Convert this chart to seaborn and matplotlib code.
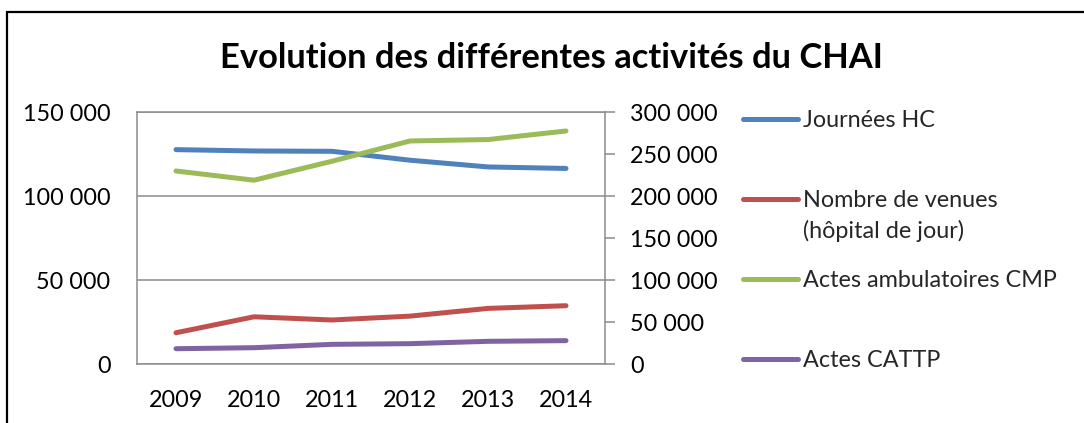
import matplotlib
matplotlib.use("Agg")
import matplotlib.pyplot as plt
import seaborn as sns
import pandas as pd
import numpy as np
from matplotlib.legend_handler import HandlerLine2D
from matplotlib.lines import Line2D
from matplotlib.patches import Rectangle
from matplotlib.ticker import FuncFormatter, MultipleLocator

# Activity figures per year
annees = ["2009", "2010", "2011", "2012", "2013", "2014"]
journees_hc = [127600, 126800, 126600, 121300, 117300, 116400]
venues_hdj = [18600, 28100, 26200, 28500, 33100, 34700]
actes_cmp = [229800, 218800, 241400, 265500, 267200, 277400]   # secondary axis
actes_cattp = [9100, 9700, 11700, 12100, 13500, 13900]

labels = ["Journées HC", "Nombre de venues\n(hôpital de jour)",
          "Actes ambulatoires CMP", "Actes CATTP"]
colors = ["#4F81BD", "#C0504D", "#9BBB59", "#8064A2"]

sns.set_theme(style="white")
plt.rcParams["font.family"] = ["Lato", "DejaVu Sans"]

W, H = 1084, 423
fig = plt.figure(figsize=(W / 100, H / 100), dpi=100)
fig.patch.set_facecolor("white")

# outer chart frame (open on the right and bottom)
fig.patches.append(Rectangle((7 / W, -0.2), 1.2, (1 - 12 / H) + 0.2,
                             transform=fig.transFigure, fill=False,
                             edgecolor="black", linewidth=1.6))

ax = fig.add_axes([137 / W, 1 - 364 / H, (605 - 137) / W, (364 - 112) / H])
ax2 = ax.twinx()

pos = np.arange(len(annees))
df = pd.DataFrame({"pos": pos, "hc": journees_hc, "hdj": venues_hdj,
                   "cmp": actes_cmp, "cattp": actes_cattp})

line_kw = dict(linewidth=3.6, solid_capstyle="round", legend=False)
sns.lineplot(data=df, x="pos", y="hc", ax=ax, color=colors[0], **line_kw)
sns.lineplot(data=df, x="pos", y="hdj", ax=ax, color=colors[1], **line_kw)
sns.lineplot(data=df, x="pos", y="cattp", ax=ax, color=colors[3], **line_kw)
sns.lineplot(data=df, x="pos", y="cmp", ax=ax2, color=colors[2], **line_kw)

grid_c = "#8C8C8C"
fmt = FuncFormatter(lambda v, _: f"{int(v):,}".replace(",", " "))

ax.set_xlim(-0.5, len(annees) - 0.5)
ax.set_xticks(pos)
ax.set_xticklabels(annees)
ax.set_ylim(0, 150000)
ax.yaxis.set_major_locator(MultipleLocator(50000))
ax.yaxis.set_major_formatter(fmt)
ax2.set_ylim(0, 300000)
ax2.yaxis.set_major_locator(MultipleLocator(50000))
ax2.yaxis.set_major_formatter(fmt)

for a in (ax, ax2):
    a.set_xlabel("")
    a.set_ylabel("")
    a.set_facecolor("none")

ax.grid(axis="y", color=grid_c, linewidth=1.1)
ax.grid(axis="x", visible=False)
ax2.grid(False)
ax.set_axisbelow(True)

for s in ["left", "bottom", "top"]:
    ax.spines[s].set_visible(True)
    ax.spines[s].set_color(grid_c)
    ax.spines[s].set_linewidth(1.1)
ax.spines["right"].set_visible(False)
for s in ["left", "bottom", "top"]:
    ax2.spines[s].set_visible(False)
ax2.spines["right"].set_visible(True)
ax2.spines["right"].set_color(grid_c)
ax2.spines["right"].set_linewidth(1.1)

fs = 16.8
ax.tick_params(axis="y", left=False, length=0, pad=19, labelsize=fs, labelcolor="black")
ax.tick_params(axis="x", bottom=False, length=0, pad=19, labelsize=fs, labelcolor="black")
ax2.tick_params(axis="y", right=True, length=7, width=1.1, color=grid_c, pad=11,
                labelsize=fs, labelcolor="black")

fig.text(551 / W, 1 - 58 / H, "Evolution des différentes activités du CHAI",
         ha="center", va="center", fontsize=24.8, fontweight="bold", color="black")


class HandlerTopLine(HandlerLine2D):
    """Line handle aligned with the first line of a multi-line label."""
    def __init__(self, shift, **kw):
        super().__init__(**kw)
        self.shift = shift

    def create_artists(self, legend, orig_handle, xdescent, ydescent, width,
                       height, fontsize, trans):
        arts = super().create_artists(legend, orig_handle, xdescent, ydescent,
                                      width, height, fontsize, trans)
        for a in arts:
            a.set_ydata(np.asarray(a.get_ydata()) + self.shift)
        return arts


# one legend block per series, stacked at a regular step like the source layout
legend_tops = [110, 190, 270, 350]
for col, lab, top in zip(colors, labels, legend_tops):
    h = Line2D([], [], color=col, linewidth=3.6, solid_capstyle="round")
    hmap = {h: HandlerTopLine(shift=12.3)} if "\n" in lab else None
    leg = fig.legend([h], [lab], loc="upper left",
                     bbox_to_anchor=(743 / W, 1 - top / H), frameon=False,
                     fontsize=fs, handlelength=2.36, handletextpad=0.21,
                     borderpad=0, borderaxespad=0, handler_map=hmap)
    for t in leg.get_texts():
        t.set_linespacing(1.5)

fig.savefig("out.png", dpi=100, facecolor="white")
